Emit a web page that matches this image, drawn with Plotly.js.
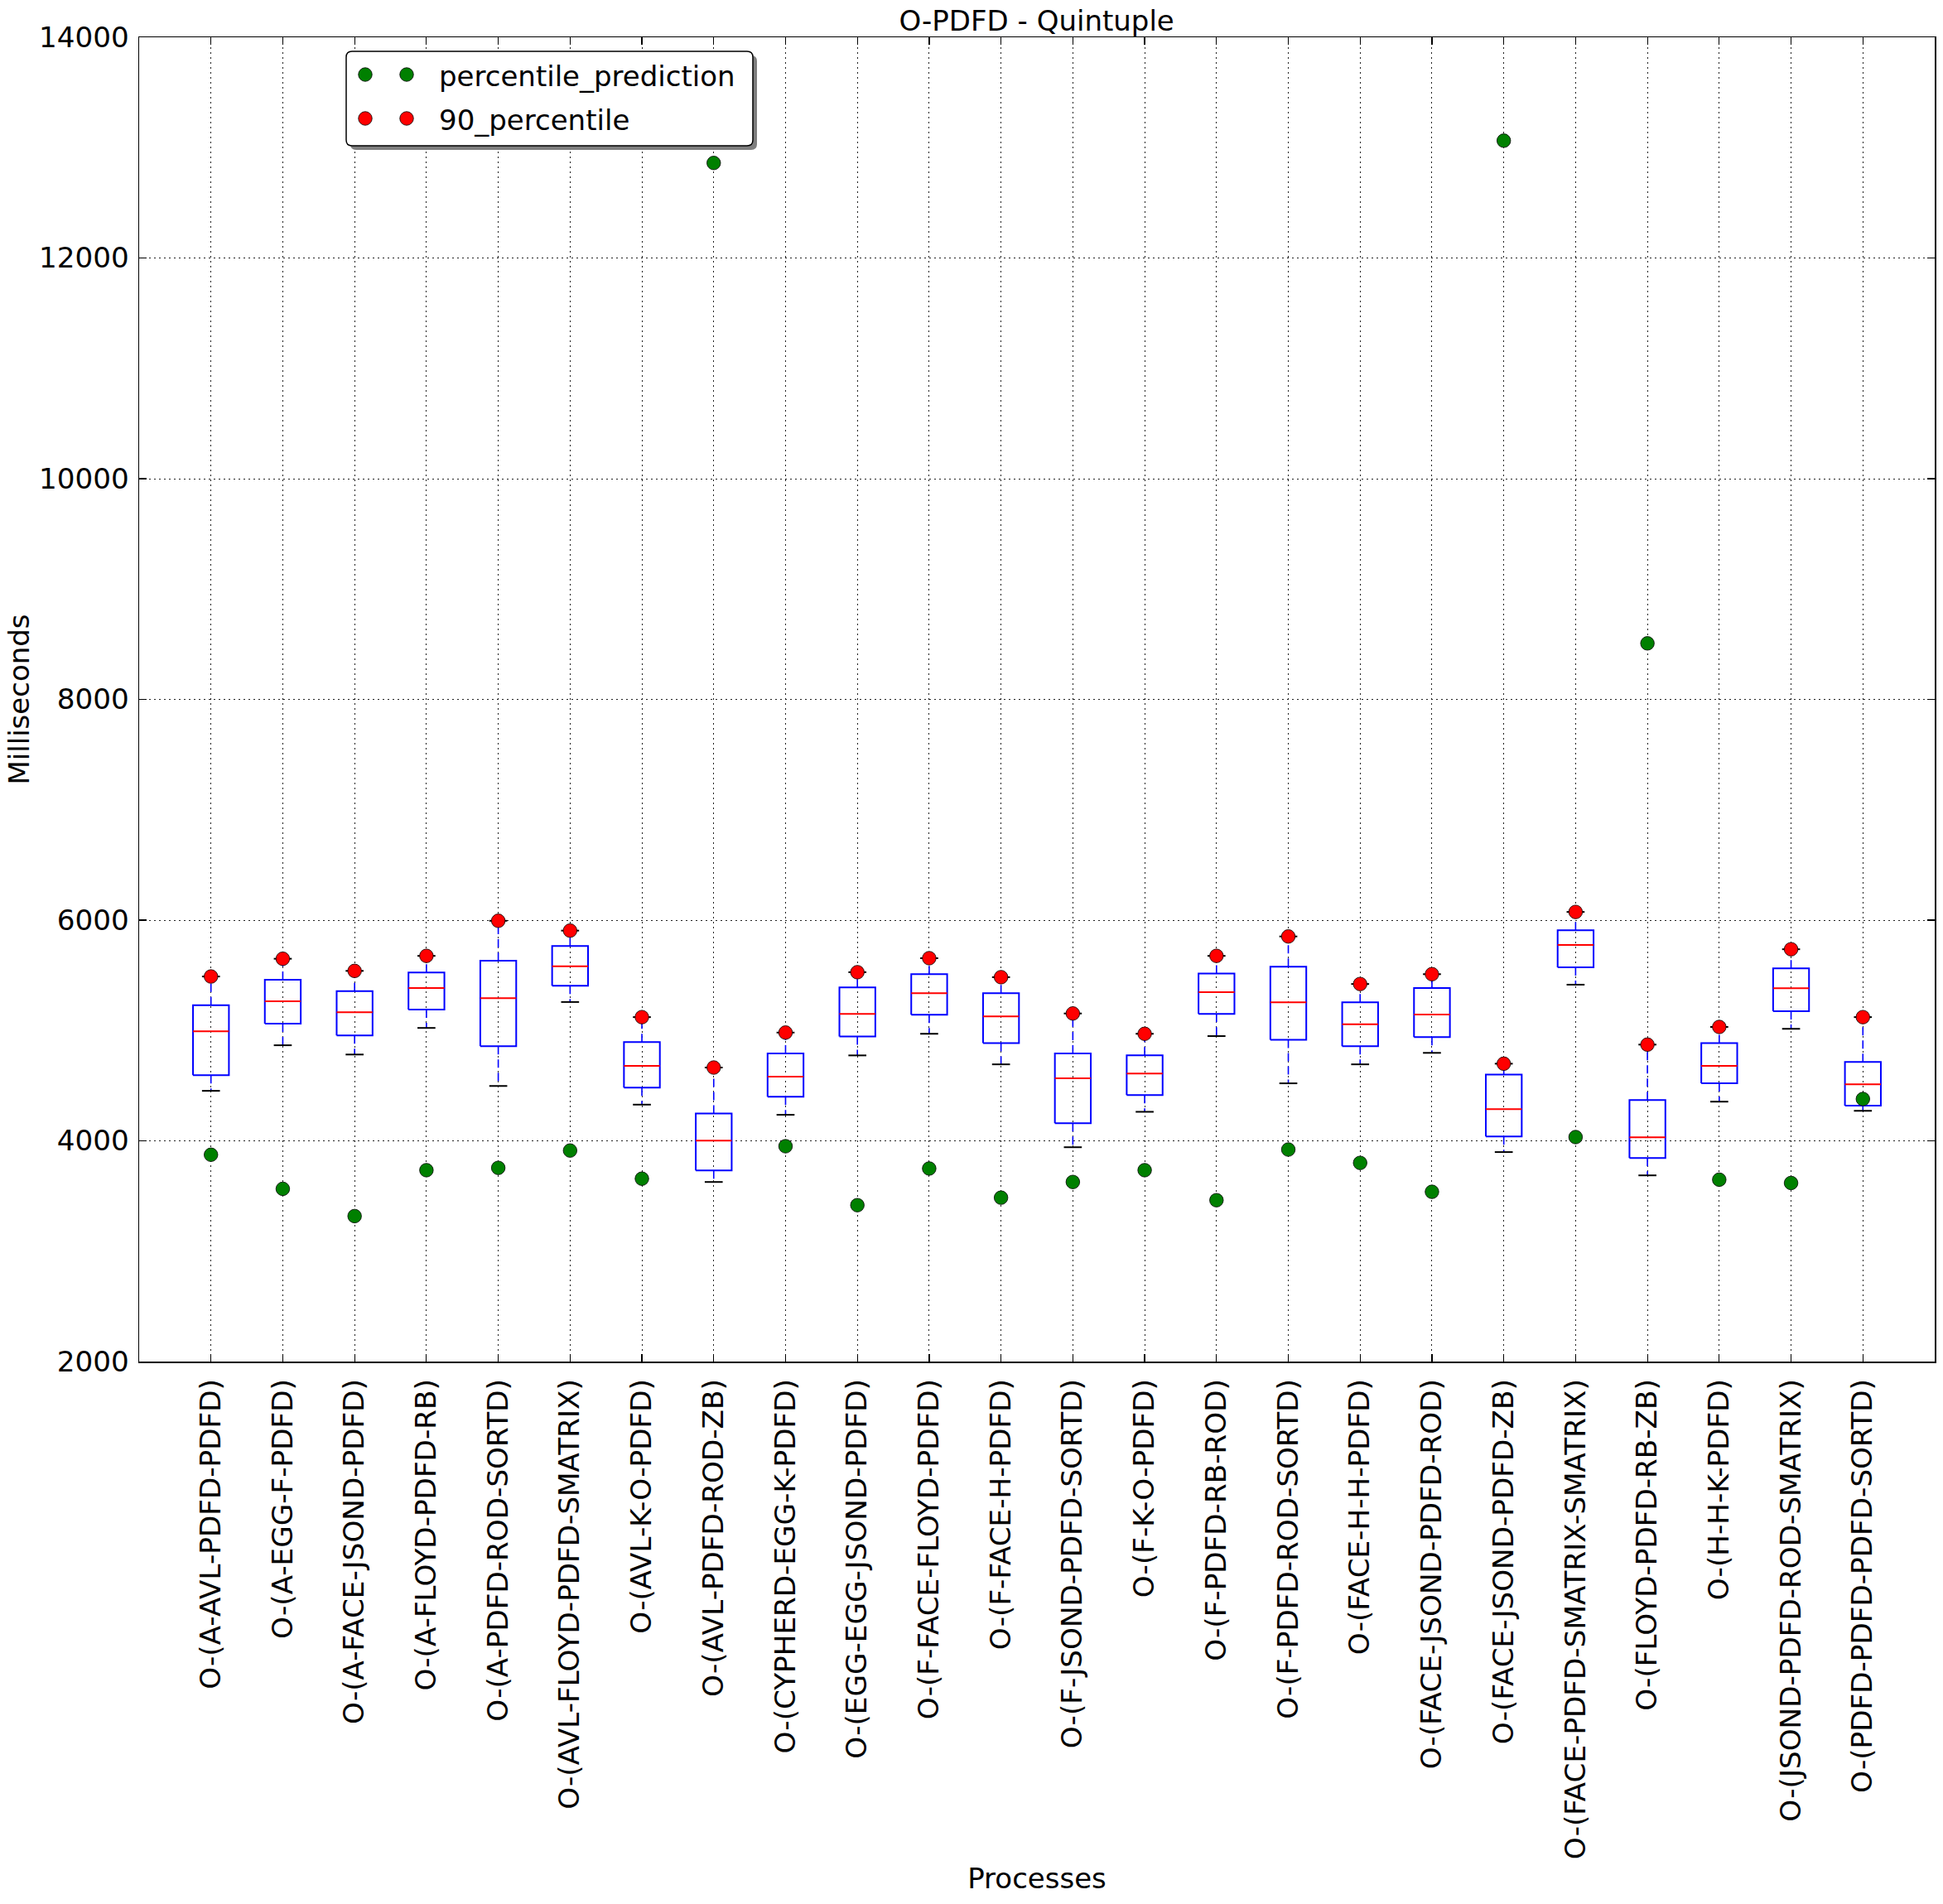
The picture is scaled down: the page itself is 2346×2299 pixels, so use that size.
<!DOCTYPE html>
<html>
<head>
<meta charset="utf-8">
<script src="https://cdn.plot.ly/plotly-3.0.1.min.js"></script>
<style>html,body{margin:0;padding:0;background:#fff;}#chart{width:2346px;height:2299px;}</style>
</head>
<body>
<div id="chart"></div>
<script>
// ---- data ----
const categories = [
  "O-(A-AVL-PDFD-PDFD)",
  "O-(A-EGG-F-PDFD)",
  "O-(A-FACE-JSOND-PDFD)",
  "O-(A-FLOYD-PDFD-RB)",
  "O-(A-PDFD-ROD-SORTD)",
  "O-(AVL-FLOYD-PDFD-SMATRIX)",
  "O-(AVL-K-O-PDFD)",
  "O-(AVL-PDFD-ROD-ZB)",
  "O-(CYPHERD-EGG-K-PDFD)",
  "O-(EGG-EGG-JSOND-PDFD)",
  "O-(F-FACE-FLOYD-PDFD)",
  "O-(F-FACE-H-PDFD)",
  "O-(F-JSOND-PDFD-SORTD)",
  "O-(F-K-O-PDFD)",
  "O-(F-PDFD-RB-ROD)",
  "O-(F-PDFD-ROD-SORTD)",
  "O-(FACE-H-H-PDFD)",
  "O-(FACE-JSOND-PDFD-ROD)",
  "O-(FACE-JSOND-PDFD-ZB)",
  "O-(FACE-PDFD-SMATRIX-SMATRIX)",
  "O-(FLOYD-PDFD-RB-ZB)",
  "O-(H-H-K-PDFD)",
  "O-(JSOND-PDFD-ROD-SMATRIX)",
  "O-(PDFD-PDFD-PDFD-SORTD)"
];
const whiskerLow = [4453, 4866, 4782, 5023, 4497, 5258, 4328, 3627, 4236, 4774, 4970, 4693, 3942, 4263, 4949, 4521, 4693, 4797, 3898, 5415, 3687, 4355, 5015, 4272];
const q1Values   = [4595, 5062, 4955, 5189, 4857, 5406, 4483, 3731, 4399, 4946, 5142, 4886, 4159, 4414, 5151, 4916, 4857, 4940, 4040, 5572, 3844, 4521, 5174, 4319];
const medians    = [4993, 5264, 5166, 5385, 5293, 5581, 4679, 4001, 4581, 5151, 5338, 5127, 4566, 4610, 5347, 5255, 5056, 5145, 4287, 5774, 4031, 4679, 5382, 4512];
const q3Values   = [5228, 5460, 5356, 5525, 5632, 5765, 4895, 4248, 4791, 5391, 5510, 5338, 4791, 4774, 5516, 5578, 5255, 5385, 4601, 5908, 4370, 4886, 5563, 4714];
const percentile90 = [5489, 5650, 5540, 5676, 5994, 5905, 5121, 4664, 4981, 5528, 5655, 5483, 5154, 4970, 5676, 5852, 5421, 5510, 4699, 6074, 4872, 5032, 5736, 5121];
const percentilePrediction = [3874, 3565, 3318, 3734, 3755, 3912, 3657, 12861, 3951, 3417, 3749, 3485, 3627, 3734, 3462, 3921, 3800, 3538, 13063, 4034, 8508, 3648, 3618, 4379];
const seriesNames = ["percentile_prediction", "90_percentile"];
const seriesColors = ["#008000", "#ff0000"];

// ---- styling constants ----
const FONT = "DejaVu Sans, Liberation Sans, sans-serif";
const W = 2346, H = 2299;
const M = {l: 168, r: 10, t: 45, b: 655};
const BOX_W = 0.5, CAP_W = 0.25, MARKER = 16.5;
const positions = categories.map((_, i) => i + 1);

// build box-plot pieces from the data through the axes
const boxX = [], boxY = [], medX = [], medY = [], whX = [], whY = [], capX = [], capY = [];
positions.forEach((p, i) => {
  const l = p - BOX_W / 2, r = p + BOX_W / 2;
  boxX.push(l, r, r, l, l, null);
  boxY.push(q1Values[i], q1Values[i], q3Values[i], q3Values[i], q1Values[i], null);
  medX.push(l, r, null);
  medY.push(medians[i], medians[i], null);
  whX.push(p, p, null, p, p, null);
  whY.push(q1Values[i], whiskerLow[i], null, q3Values[i], percentile90[i], null);
  capX.push(p - CAP_W / 2, p + CAP_W / 2, null, p - CAP_W / 2, p + CAP_W / 2, null);
  capY.push(whiskerLow[i], whiskerLow[i], null, percentile90[i], percentile90[i], null);
});

const traces = [
  {type: "scatter", mode: "lines", x: whX, y: whY, showlegend: false, hoverinfo: "skip",
   line: {color: "#0000ff", width: 1.6, dash: "10px,6px"}},
  {type: "scatter", mode: "lines", x: boxX, y: boxY, showlegend: false, hoverinfo: "skip",
   line: {color: "#0000ff", width: 2}},
  {type: "scatter", mode: "lines", x: medX, y: medY, showlegend: false, hoverinfo: "skip",
   line: {color: "#ff0000", width: 2}},
  {type: "scatter", mode: "lines", x: capX, y: capY, showlegend: false, hoverinfo: "skip",
   line: {color: "#000000", width: 2}},
  {type: "scatter", mode: "markers", name: seriesNames[0], x: positions, y: percentilePrediction, showlegend: false,
   marker: {color: seriesColors[0], size: MARKER, line: {color: "#000000", width: 0.8}}},
  {type: "scatter", mode: "markers", name: seriesNames[1], x: positions, y: percentile90, showlegend: false,
   marker: {color: seriesColors[1], size: MARKER, line: {color: "#000000", width: 0.8}}}
];

// ---- matplotlib-style legend (two markers per entry, shadowed frame) ----
const plotW = W - M.l - M.r, plotH = H - M.t - M.b;
const px2x = px => (px - M.l) / plotW;
const px2y = py => (H - M.b - py) / plotH;
const LEG = {x0: 418, x1: 909, y0: 62, y1: 176, rad: 7, shadow: 5, rowY: [90, 143], dotX: [441, 491], textX: 528};
function roundRect(x0, y0, x1, y1, r) {
  const X = px2x, Y = px2y;
  return `M ${X(x0 + r)} ${Y(y0)} L ${X(x1 - r)} ${Y(y0)} Q ${X(x1)} ${Y(y0)} ${X(x1)} ${Y(y0 + r)} ` +
         `L ${X(x1)} ${Y(y1 - r)} Q ${X(x1)} ${Y(y1)} ${X(x1 - r)} ${Y(y1)} L ${X(x0 + r)} ${Y(y1)} ` +
         `Q ${X(x0)} ${Y(y1)} ${X(x0)} ${Y(y1 - r)} L ${X(x0)} ${Y(y0 + r)} Q ${X(x0)} ${Y(y0)} ${X(x0 + r)} ${Y(y0)} Z`;
}
const shapes = [
  {type: "path", xref: "paper", yref: "paper", layer: "above",
   path: roundRect(LEG.x0 + LEG.shadow, LEG.y0 + LEG.shadow, LEG.x1 + LEG.shadow, LEG.y1 + LEG.shadow, LEG.rad),
   fillcolor: "#7f7f7f", line: {width: 0}},
  {type: "path", xref: "paper", yref: "paper", layer: "above",
   path: roundRect(LEG.x0, LEG.y0, LEG.x1, LEG.y1, LEG.rad),
   fillcolor: "#ffffff", line: {color: "#000000", width: 1.5}}
];
const annotations = [];
seriesNames.forEach((name, k) => {
  LEG.dotX.forEach(dx => {
    const r = MARKER / 2;
    shapes.push({type: "circle", xref: "paper", yref: "paper", layer: "above",
      x0: px2x(dx - r), x1: px2x(dx + r), y0: px2y(LEG.rowY[k] + r), y1: px2y(LEG.rowY[k] - r),
      fillcolor: seriesColors[k], line: {color: "#000000", width: 0.8}});
  });
  annotations.push({xref: "paper", yref: "paper", x: px2x(LEG.textX), y: px2y(LEG.rowY[k] + 2),
    xanchor: "left", yanchor: "middle", showarrow: false, text: name,
    font: {family: FONT, size: 34, color: "#000000"}});
});

const axisCommon = {
  showline: true, linecolor: "#000000", linewidth: 1.5, mirror: "ticks",
  ticks: "inside", ticklen: 9, tickwidth: 1.2, tickcolor: "#000000",
  showgrid: true, gridcolor: "#222222", gridwidth: 1, griddash: "2px,4px",
  zeroline: false,
  tickfont: {family: FONT, size: 34.2, color: "#000000"}
};

const layout = {
  width: W, height: H,
  margin: M,
  paper_bgcolor: "#ffffff", plot_bgcolor: "#ffffff",
  font: {family: FONT, color: "#000000", size: 34},
  title: {text: "O-PDFD - Quintuple", font: {family: FONT, size: 34, color: "#000000"},
          x: 0.5335, xanchor: "center", yref: "container", y: 1 - 25 / H, yanchor: "middle"},
  xaxis: Object.assign({}, axisCommon, {
    range: [0, 25], tickmode: "array", tickvals: positions, ticktext: categories,
    tickangle: -90, ticklabelstandoff: 6,
    title: {text: "Processes", font: {family: FONT, size: 34, color: "#000000"}, standoff: 12}
  }),
  yaxis: Object.assign({}, axisCommon, {
    range: [2000, 14000], tickmode: "linear", tick0: 2000, dtick: 2000, tickformat: "d",
    ticklabelstandoff: 4,
    title: {text: "Milliseconds", font: {family: FONT, size: 34, color: "#000000"}, standoff: 1}
  }),
  shapes: shapes,
  annotations: annotations,
  showlegend: false
};

Plotly.newPlot("chart", traces, layout, {displayModeBar: false, staticPlot: true});
</script>
</body>
</html>
